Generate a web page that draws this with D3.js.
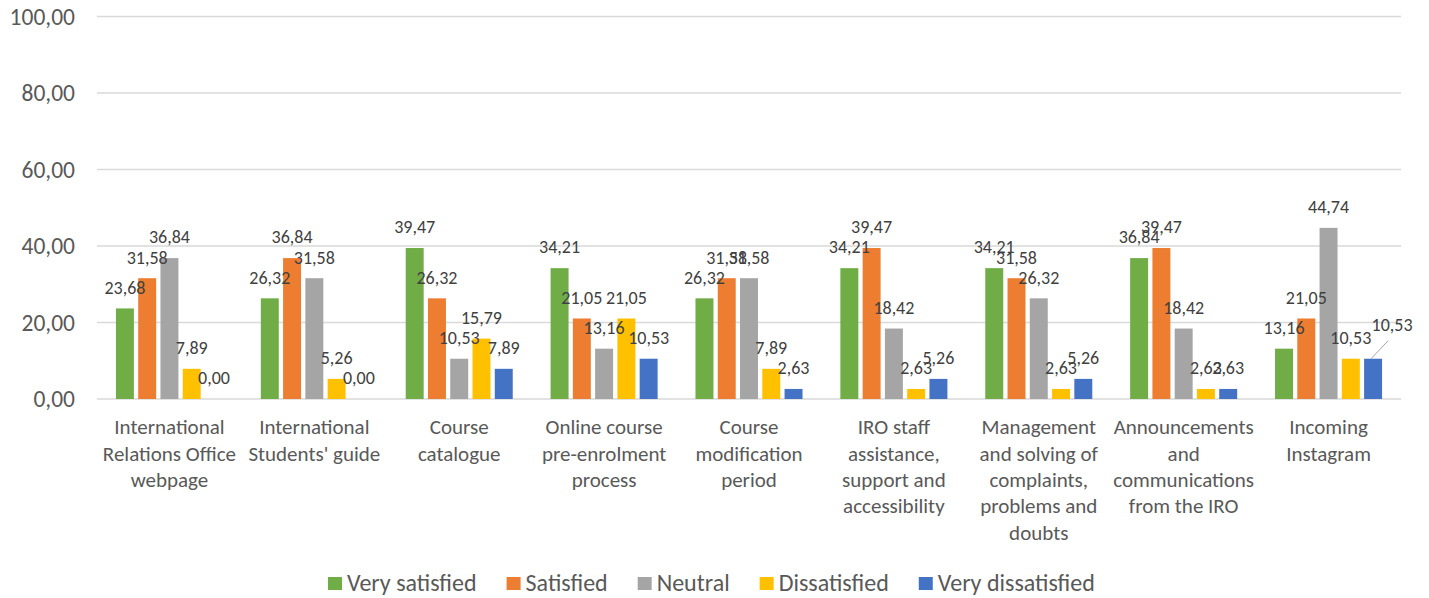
<!DOCTYPE html>
<html><head><meta charset="utf-8">
<script src="https://cdn.jsdelivr.net/npm/d3@7"></script>
<style>html,body{margin:0;padding:0;background:#fff;} svg{display:block;}</style>
</head><body>
<script>
const categories = [
  ["International","Relations Office","webpage"],
  ["International","Students' guide"],
  ["Course","catalogue"],
  ["Online course","pre-enrolment","process"],
  ["Course","modification","period"],
  ["IRO staff","assistance,","support and","accessibility"],
  ["Management","and solving of","complaints,","problems and","doubts"],
  ["Announcements","and","communications","from the IRO"],
  ["Incoming","Instagram"]
];
const seriesNames = ["Very satisfied","Satisfied","Neutral","Dissatisfied","Very dissatisfied"];
const verySatisfied    = [23.68, 26.32, 39.47, 34.21, 26.32, 34.21, 34.21, 36.84, 13.16];
const satisfied        = [31.58, 36.84, 26.32, 21.05, 31.58, 39.47, 31.58, 39.47, 21.05];
const neutral          = [36.84, 31.58, 10.53, 13.16, 31.58, 18.42, 26.32, 18.42, 44.74];
const dissatisfied     = [7.89, 5.26, 15.79, 21.05, 7.89, 2.63, 2.63, 2.63, 10.53];
const veryDissatisfied = [0.00, 0.00, 7.89, 10.53, 2.63, 5.26, 5.26, 2.63, 10.53];
const yTicks = [0, 20, 40, 60, 80, 100];
const colors = ["#70AD47","#ED7D31","#A5A5A5","#FFC000","#4472C4"];

const seriesValues = [verySatisfied, satisfied, neutral, dissatisfied, veryDissatisfied];
const W = 1429, H = 598;
const FONT = "Carlito, Lato, 'Open Sans', sans-serif";
const svg = d3.select("body").append("svg").attr("width", W).attr("height", H);

const catKeys = categories.map((c, i) => i);
const x0 = d3.scaleBand().domain(catKeys).range([97, 1401]).paddingInner(0).paddingOuter(0);
const x1 = d3.scaleBand().domain(seriesNames).range([0, x0.bandwidth()]).paddingInner(0.193).paddingOuter(0.85);
const y = d3.scaleLinear().domain([0, 100]).range([399, 16.5]);

// gridlines
svg.append("g").selectAll("line").data(yTicks).join("line")
  .attr("x1", 97).attr("x2", 1401)
  .attr("y1", d => y(d)).attr("y2", d => y(d))
  .attr("stroke", "#D9D9D9").attr("stroke-width", 1.5);

// y tick labels
svg.append("g").selectAll("text").data(yTicks).join("text")
  .attr("x", 75).attr("y", d => y(d)).attr("dy", "0.35em")
  .attr("text-anchor", "end").attr("font-family", FONT).attr("font-size", 23.5)
  .attr("fill", "#595959")
  .text(d => d3.format(".2f")(d).replace(".", ","));

// bars
const groups = svg.append("g").selectAll("g").data(catKeys).join("g")
  .attr("transform", d => `translate(${x0(d)},0)`);
const cells = d => seriesNames.map((s, j) => ({s, j, v: seriesValues[j][d], cat: d}));
groups.selectAll("rect").data(cells).join("rect")
  .attr("x", d => x1(d.s)).attr("width", x1.bandwidth())
  .attr("y", d => y(d.v)).attr("height", d => y(0) - y(d.v))
  .attr("fill", d => colors[d.j]);

// data labels
const fmt = v => d3.format(".2f")(v).replace(".", ",");
groups.each(function(cat) {
  const g = d3.select(this);
  cells(cat).forEach(d => {
    const cx = x1(d.s) + x1.bandwidth() / 2;
    const top = y(d.v);
    let lx = cx, ly = top - 21;
    if (cat === categories.length - 1 && d.j === 4) {
      // label moved with leader line
      lx = cx + 19; ly = top - 34;
      g.append("line").attr("x1", cx - 2).attr("y1", top)
        .attr("x2", cx + 15).attr("y2", top - 18)
        .attr("stroke", "#A6A6A6").attr("stroke-width", 1);
    }
    g.append("text").attr("x", lx).attr("y", ly).attr("dy", "0.35em")
      .attr("text-anchor", "middle").attr("font-family", FONT).attr("font-size", 18)
      .attr("fill", "#404040").text(fmt(d.v));
  });
});

// category labels
const catG = svg.append("g");
categories.forEach((lines, i) => {
  const t = catG.append("text").attr("text-anchor", "middle")
    .attr("font-family", FONT).attr("font-size", 21).attr("fill", "#595959");
  lines.forEach((ln, k) => {
    t.append("tspan").attr("x", x0(i) + x0.bandwidth() / 2)
      .attr("y", 427 + k * 26.3).attr("dy", "0.35em").text(ln);
  });
});

// legend (laid out by measured text width)
const lg = svg.append("g");
let lx = 328;
seriesNames.forEach((s, j) => {
  lg.append("rect").attr("x", lx).attr("y", 577).attr("width", 14).attr("height", 13).attr("fill", colors[j]);
  const t = lg.append("text").attr("x", lx + 19).attr("y", 583).attr("dy", "0.35em")
    .attr("font-family", FONT).attr("font-size", 24).attr("fill", "#595959").text(s);
  lx += 19 + t.node().getComputedTextLength() + 30;
});
</script>
</body></html>
